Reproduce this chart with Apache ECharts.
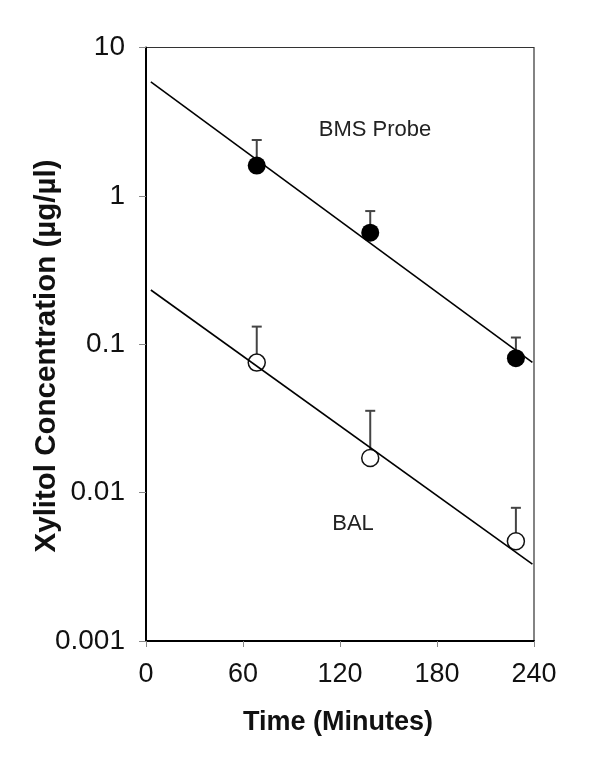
<!DOCTYPE html>
<html>
<head>
<meta charset="utf-8">
<script src="https://cdn.jsdelivr.net/npm/echarts@6/dist/echarts.min.js"></script>
<style>html,body{margin:0;padding:0;background:#fff}#c{width:600px;height:782px}</style>
</head>
<body>
<div id="c"></div>
<script>
// Data
var times = [68.5, 138.7, 228.8];
var bmsMean = [1.6, 0.565, 0.0805];
var bmsUpper = [2.38, 0.79, 0.111];
var balMean = [0.0752, 0.0171, 0.0047];
var balUpper = [0.1315, 0.0356, 0.0079];
var fitTimes = [3, 239];
var bmsFit = [5.87, 0.0755];
var balFit = [0.232, 0.0033];
var xTicks = [0, 60, 120, 180, 240];
var yTickLabels = ['0.001', '0.01', '0.1', '1', '10'];

function pairs(xs, ys) { return xs.map(function (x, i) { return [x, ys[i]]; }); }
function errData(xs, m, u) { return xs.map(function (x, i) { return [x, m[i], u[i]]; }); }

var FONT = '"Liberation Sans", Arial, sans-serif';

function errRender(params, api) {
  var p0 = api.coord([api.value(0), api.value(1)]);
  var p1 = api.coord([api.value(0), api.value(2)]);
  var hw = 5;
  return {
    type: 'group',
    children: [
      { type: 'line', shape: { x1: p0[0], y1: p0[1], x2: p1[0], y2: p1[1] }, style: { stroke: '#444', lineWidth: 2 } },
      { type: 'line', shape: { x1: p1[0] - hw, y1: p1[1], x2: p1[0] + hw, y2: p1[1] }, style: { stroke: '#444', lineWidth: 2 } }
    ]
  };
}

var chart = echarts.init(document.getElementById('c'), null, { renderer: 'canvas' });
chart.setOption({
  animation: false,
  backgroundColor: '#fff',
  grid: { left: 146, right: 66, top: 47.5, bottom: 141, show: true, borderColor: '#333', borderWidth: 1.2, containLabel: false },
  xAxis: {
    type: 'value', min: xTicks[0], max: xTicks[xTicks.length - 1], interval: 60,
    axisLine: { show: true, lineStyle: { color: '#000', width: 2 } },
    axisTick: { show: true, inside: false, length: 6, lineStyle: { color: '#888', width: 1 } },
    axisLabel: { color: '#111', fontSize: 27, fontFamily: FONT, margin: 20 },
    splitLine: { show: false }
  },
  yAxis: {
    type: 'log', logBase: 10, min: 0.001, max: 10,
    axisLine: { show: true, lineStyle: { color: '#000', width: 2 } },
    axisTick: { show: true, inside: false, length: 7, lineStyle: { color: '#888', width: 1 } },
    minorTick: { show: false },
    axisLabel: {
      color: '#111', fontSize: 28, fontFamily: FONT, margin: 21,
      formatter: function (v) {
        var e = Math.round(Math.log10(v));
        return yTickLabels[e + 3];
      }
    },
    splitLine: { show: false }
  },
  graphic: [
    { type: 'text', x: 338, y: 723, style: { text: 'Time (Minutes)', font: 'bold 27px ' + FONT, fill: '#111', align: 'center', verticalAlign: 'middle' } },
    { type: 'text', x: 47, y: 356, rotation: Math.PI / 2, style: { text: 'Xylitol Concentration (µg/µl)', font: 'bold 29.5px ' + FONT, fill: '#111', align: 'center', verticalAlign: 'middle' } },
    { type: 'text', x: 375, y: 130, style: { text: 'BMS Probe', font: '22px ' + FONT, fill: '#222', align: 'center', verticalAlign: 'middle' } },
    { type: 'text', x: 353, y: 524, style: { text: 'BAL', font: '22px ' + FONT, fill: '#222', align: 'center', verticalAlign: 'middle' } }
  ],
  series: [
    { type: 'custom', renderItem: errRender, data: errData(times, bmsMean, bmsUpper), z: 2, encode: { x: 0, y: [1, 2] } },
    { type: 'custom', renderItem: errRender, data: errData(times, balMean, balUpper), z: 2, encode: { x: 0, y: [1, 2] } },
    { type: 'scatter', data: pairs(times, bmsMean), symbol: 'circle', symbolSize: 18, itemStyle: { color: '#000', opacity: 1 }, z: 3 },
    { type: 'scatter', data: pairs(times, balMean), symbol: 'circle', symbolSize: 17, itemStyle: { color: '#fff', borderColor: '#111', borderWidth: 1.5, opacity: 1 }, z: 3 },
    { type: 'line', data: pairs(fitTimes, bmsFit), showSymbol: false, lineStyle: { color: '#000', width: 1.6 }, z: 4 },
    { type: 'line', data: pairs(fitTimes, balFit), showSymbol: false, lineStyle: { color: '#000', width: 1.6 }, z: 4 }
  ]
});
</script>
</body>
</html>
